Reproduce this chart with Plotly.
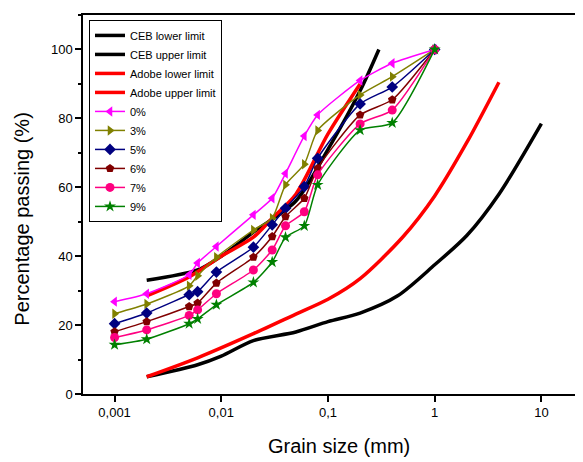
import plotly.graph_objects as go

# grain sizes (mm) of the tested samples
sizes = [0.001, 0.002, 0.005, 0.006, 0.009, 0.02, 0.03, 0.04, 0.06, 0.08, 0.2, 0.4, 1]

pass_0 = [26.8, 29.1, 34.6, 38.0, 42.8, 52.0, 56.8, 64.0, 74.9, 81.0, 91.0, 96.0, 100]
pass_3 = [23.3, 26.1, 31.4, 34.3, 39.7, 47.6, 51.0, 60.7, 66.7, 76.5, 86.8, 92.1, 100]
pass_5 = [20.4, 23.5, 28.8, 29.7, 35.4, 42.6, 49.1, 53.9, 60.2, 68.4, 84.2, 89.1, 100]
pass_6 = [18.1, 21.0, 25.4, 26.4, 32.2, 39.7, 45.7, 51.5, 56.8, 65.5, 81.0, 85.4, 100]
pass_7 = [16.4, 18.6, 22.8, 24.4, 29.1, 36.0, 41.8, 48.8, 52.9, 63.6, 78.4, 82.4, 100]
pass_9 = [14.3, 15.9, 20.4, 21.8, 25.9, 32.4, 38.3, 45.5, 48.8, 60.7, 76.6, 78.7, 100]

# limit curves
ceb_lower_x = [0.002, 0.006, 0.01, 0.02, 0.05, 0.1, 0.2, 0.45, 1, 2, 4, 10]
ceb_lower_y = [5, 8.5, 11, 15.5, 18, 21, 23.5, 28.5, 37.5, 46, 58, 78.5]
ceb_upper_x = [0.002, 0.006, 0.01, 0.02, 0.05, 0.1, 0.2, 0.3]
ceb_upper_y = [33, 36, 40, 47, 56, 71, 88, 100]
adobe_lower_x = [0.002, 0.006, 0.02, 0.05, 0.1, 0.2, 0.5, 1, 2, 4]
adobe_lower_y = [5, 10.5, 17.5, 23.2, 27.5, 33.5, 45.5, 57.5, 73, 90.5]
adobe_upper_x = [0.002, 0.005, 0.01, 0.02, 0.03, 0.05, 0.1, 0.2]
adobe_upper_y = [28.5, 34, 40, 45.5, 51, 58, 75.5, 90]

tick_vals = [0.001, 0.01, 0.1, 1, 10]
tick_text = ['0,001', '0,01', '0,1', '1', '10']

fig = go.Figure()

limits = [
    ('CEB lower limit', ceb_lower_x, ceb_lower_y, 'black'),
    ('CEB upper limit', ceb_upper_x, ceb_upper_y, 'black'),
    ('Adobe lower limit', adobe_lower_x, adobe_lower_y, 'red'),
    ('Adobe upper limit', adobe_upper_x, adobe_upper_y, 'red'),
]
for name, xs, ys, col in limits:
    fig.add_trace(go.Scatter(x=xs, y=ys, mode='lines', name=name,
                             line=dict(color=col, width=3.5, shape='spline', smoothing=0.8)))

series = [
    ('0%', pass_0, '#FF00FF', 'triangle-left'),
    ('3%', pass_3, '#808000', 'triangle-right'),
    ('5%', pass_5, '#000080', 'diamond'),
    ('6%', pass_6, '#800000', 'pentagon'),
    ('7%', pass_7, '#FF0080', 'circle'),
    ('9%', pass_9, '#008000', 'star'),
]
for name, ys, col, sym in series:
    fig.add_trace(go.Scatter(x=sizes, y=ys, mode='lines+markers', name=name,
                             line=dict(color=col, width=1.5, shape='spline', smoothing=0.6),
                             marker=dict(symbol=sym, size=9, color=col)))

# the page body adds an 8px offset, so the figure is sized 8px smaller
fig.update_layout(
    width=575, height=454,
    margin=dict(l=75, r=0, t=7, b=68),
    paper_bgcolor='white', plot_bgcolor='white',
    font=dict(family='Liberation Sans, Arial, sans-serif', color='black'),
    showlegend=True,
    legend=dict(x=0.012, y=0.987, xanchor='left', yanchor='top',
                bgcolor='white', bordercolor='black', borderwidth=1,
                font=dict(size=11), tracegroupgap=0),
    xaxis=dict(type='log', range=[-3.296, 1.39], tickvals=tick_vals, ticktext=tick_text,
               ticks='outside', ticklen=6, tickwidth=1.5, tickcolor='black',
               showline=True, linecolor='black', linewidth=1.5, mirror=True,
               showgrid=False, zeroline=False, tickfont=dict(size=13), automargin=False),
    yaxis=dict(range=[0, 110], tickvals=[0, 20, 40, 60, 80, 100],
               ticks='outside', ticklen=6, tickwidth=1.5, tickcolor='black',
               minor=dict(tickvals=[10, 30, 50, 70, 90, 110], ticks='outside', ticklen=3,
                          tickwidth=1.5, tickcolor='black'),
               showline=True, linecolor='black', linewidth=1.5,
               showgrid=False, zeroline=False, tickfont=dict(size=13), automargin=False),
    annotations=[
        dict(text='Grain size (mm)', xref='paper', yref='paper', x=0.512, y=-0.138,
             xanchor='center', yanchor='middle', showarrow=False, font=dict(size=20)),
        dict(text='Percentage passing (%)', xref='paper', yref='paper', x=-0.122, y=0.46,
             xanchor='center', yanchor='middle', showarrow=False, textangle=-90,
             font=dict(size=20)),
    ],
)

fig.write_html("out.html")
